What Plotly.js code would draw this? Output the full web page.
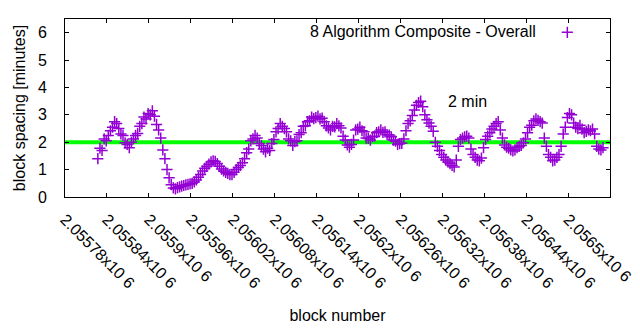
<!DOCTYPE html>
<html>
<head>
<meta charset="utf-8">
<script src="https://cdn.plot.ly/plotly-3.0.1.min.js"></script>
<style>html,body{margin:0;padding:0;background:#fff;}#chart{width:640px;height:330px;}</style>
</head>
<body>
<div id="chart"></div>
<script>
// block numbers: every 3rd block from 2055827
const firstBlock = 2055827;
const blockStep = 3;
const spacingMinutes = [
 1.40,1.78,1.70,2.12,2.05,2.25,2.42,2.55,2.75,2.68,
 2.50,2.30,2.25,1.98,1.92,1.80,2.00,2.12,2.25,2.32,
 2.58,2.68,2.92,2.85,3.05,3.00,3.15,2.95,2.65,2.45,
 2.15,1.72,1.40,1.00,0.70,0.45,0.33,0.30,0.34,0.37,
 0.40,0.42,0.44,0.46,0.48,0.50,0.55,0.62,0.72,0.82,
 0.95,1.05,1.12,1.20,1.28,1.32,1.30,1.22,1.12,1.02,
 0.95,0.90,0.86,0.82,0.82,0.90,1.00,1.08,1.15,1.25,
 1.40,1.62,1.75,2.05,2.12,2.25,2.15,1.95,1.88,1.75,
 1.65,1.78,1.70,1.95,2.10,2.38,2.50,2.68,2.58,2.50,
 2.38,2.12,2.05,1.88,2.02,2.05,2.28,2.35,2.58,2.60,
 2.75,2.78,2.92,2.86,2.90,2.95,2.85,2.88,2.75,2.60,
 2.52,2.45,2.58,2.56,2.68,2.60,2.52,2.22,2.08,1.90,
 1.82,1.92,2.08,2.45,2.48,2.55,2.42,2.38,2.15,2.14,
 2.08,2.20,2.22,2.35,2.38,2.45,2.36,2.38,2.28,2.26,
 2.20,2.08,2.04,1.92,1.95,1.96,2.12,2.42,2.68,2.78,
 2.98,3.18,3.35,3.45,3.50,3.30,3.00,2.82,2.70,2.58,
 2.40,2.00,1.85,1.70,1.55,1.45,1.35,1.28,1.22,1.15,
 1.10,1.35,1.85,2.10,2.15,2.20,2.22,2.15,1.75,1.55,
 1.45,1.35,1.32,1.42,1.80,2.10,2.22,2.35,2.48,2.58,
 2.68,2.75,2.45,2.15,1.90,1.82,1.78,1.72,1.68,1.72,
 1.80,1.85,1.88,1.98,2.12,2.35,2.55,2.62,2.78,2.85,
 2.80,2.75,2.70,2.15,1.85,1.55,1.45,1.32,1.35,1.45,
 1.55,1.85,2.30,2.55,2.90,3.05,3.00,2.70,2.55,2.50,
 2.62,2.48,2.35,2.40,2.45,2.42,2.48,2.30,1.85,1.75,
 1.72,1.80
];
const blocks = spacingMinutes.map((_, i) => firstBlock + i * blockStep);

const targetX = [2055780, 2056560];
const targetY = [2, 2];

const xTickVals = [2055780,2055840,2055900,2055960,2056020,2056080,2056140,2056200,2056260,2056320,2056380,2056440,2056500,2056560];
const xTickText = ["2.05578x10 6","2.05584x10 6","2.0559x10 6","2.05596x10 6","2.05602x10 6","2.05608x10 6","2.05614x10 6","2.0562x10 6","2.05626x10 6","2.05632x10 6","2.05638x10 6","2.05644x10 6","2.0565x10 6","2.05656x10 6"];
const yTickVals = [0,1,2,3,4,5,6];

const seriesName = "8 Algorithm Composite - Overall";
const labelText = "2 min";
const labelX = 2056325, labelY = 3.5;

const font = {family: "Liberation Sans, Arial, sans-serif", size: 16, color: "#000"};

const traces = [
  {x: targetX, y: targetY, type: "scatter", mode: "lines",
   line: {color: "#00ff00", width: 4}, showlegend: false, hoverinfo: "skip"},
  {x: blocks, y: spacingMinutes, type: "scatter", mode: "markers", name: " ",
   marker: {symbol: "cross-thin", size: 8, color: "#9400d3", line: {color: "#9400d3", width: 1.5}},
   showlegend: true}
];

const layout = {
  width: 640, height: 330,
  margin: {l: 65, r: 30, t: 19, b: 133},
  paper_bgcolor: "#fff", plot_bgcolor: "#fff",
  font: font,
  showlegend: true,
  legend: {x: 0.885, y: 1.02, xanchor: "left", yanchor: "top", bgcolor: "rgba(0,0,0,0)", font: font},
  xaxis: {
    range: [2055780, 2056560], tickmode: "array", tickvals: xTickVals, ticktext: xTickText,
    tickangle: 45, ticks: "inside", ticklen: 4, tickcolor: "#000", mirror: "allticks",
    showline: true, linecolor: "#000", linewidth: 1, showgrid: false, zeroline: false,
    tickfont: font, ticklabelstandoff: 6,
    title: {text: "block number", font: font, standoff: 19}
  },
  yaxis: {
    range: [0, 6.5], tickmode: "array", tickvals: yTickVals,
    ticks: "inside", ticklen: 4, tickcolor: "#000", mirror: "allticks",
    showline: true, linecolor: "#000", linewidth: 1, showgrid: false, zeroline: false,
    tickfont: font, ticklabelstandoff: 14,
    title: {text: "block spacing [minutes]", font: font, standoff: 8}
  },
  annotations: [
    {xref: "paper", yref: "paper", x: 0.867, y: 0.927, xanchor: "right", yanchor: "middle",
     text: seriesName, showarrow: false, font: font},
    {xref: "x", yref: "y", x: labelX, y: labelY, xanchor: "left", yanchor: "middle",
     text: labelText, showarrow: false, font: font}
  ]
};

Plotly.newPlot("chart", traces, layout, {staticPlot: true, displayModeBar: false});
</script>
</body>
</html>
